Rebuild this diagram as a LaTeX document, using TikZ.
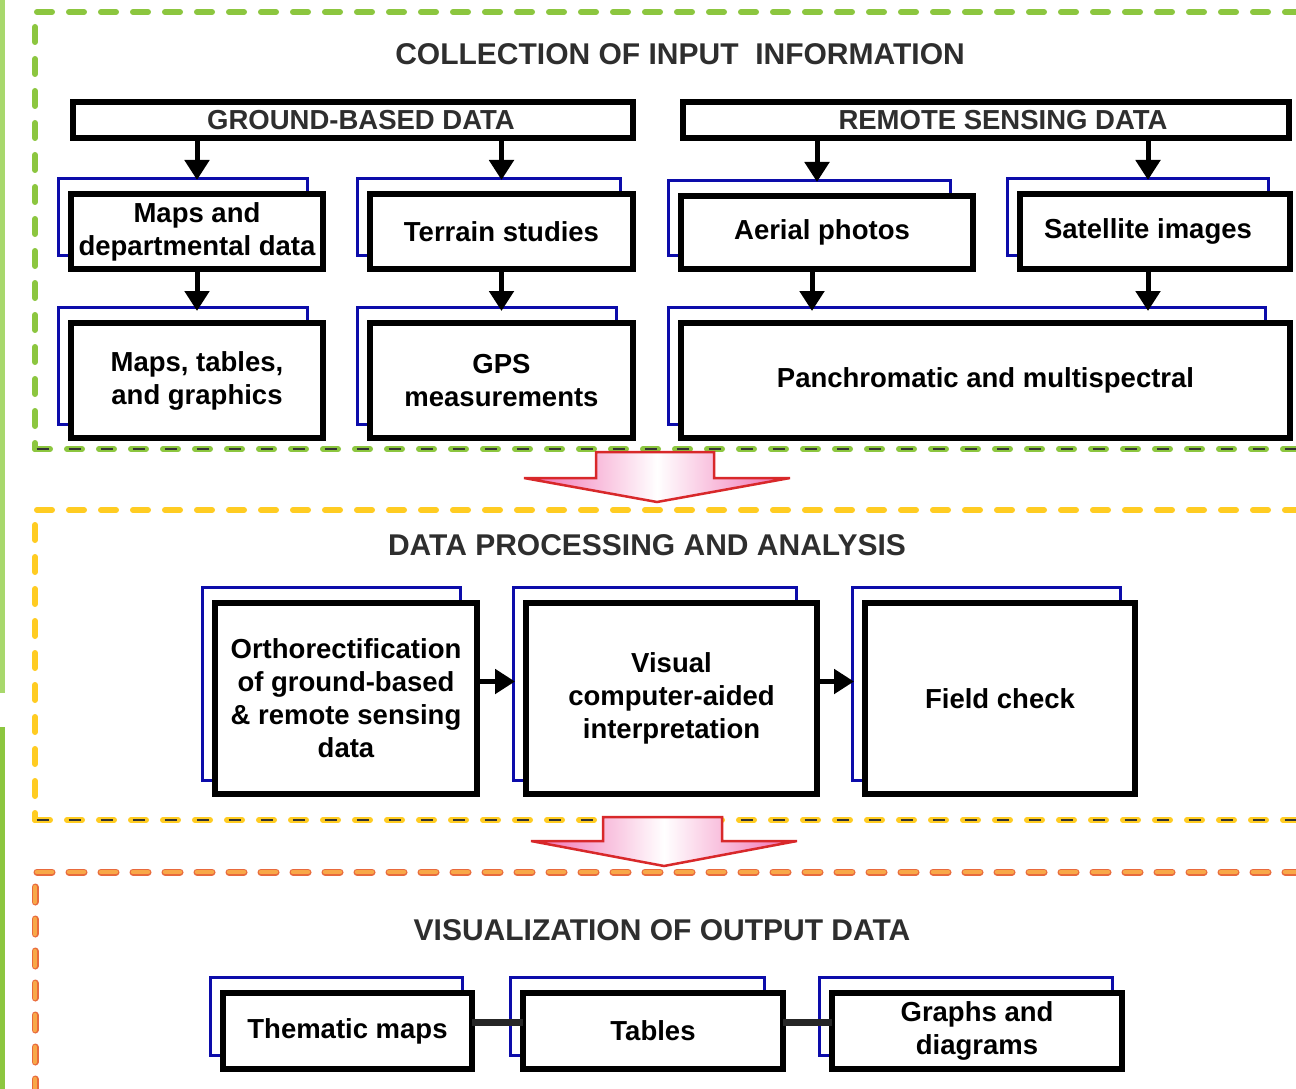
\documentclass[tikz,border=0pt]{standalone}
\usepackage{fontspec}
\setmainfont{Liberation Sans}
\usetikzlibrary{arrows.meta,backgrounds,calc}

\definecolor{grn}{HTML}{8CC63F}
\definecolor{grnlt}{HTML}{A8D86C}
\definecolor{ylw}{HTML}{FFCC22}
\definecolor{org}{HTML}{F8A848}
\definecolor{orgedge}{HTML}{E86A3C}
\definecolor{shblue}{HTML}{0C0CAA}
\definecolor{hdr}{HTML}{2E2E2E}
\definecolor{arrred}{HTML}{D8282A}
\definecolor{arrpink}{HTML}{F06AB0}

\tikzset{
  bx/.style={draw=black, line width=6pt, fill=white, align=center,
    outer sep=0pt, inner sep=0pt, font=\fontsize{27.5}{33}\selectfont\bfseries},
  headbx/.style={bx, text=hdr},
  ttl/.style={text=hdr, font=\fontsize{30}{34}\selectfont\bfseries},
  shad/.style={draw=shblue, line width=3pt},
  arr/.style={line width=5pt, -{Triangle[length=20pt,width=24pt]}},
  joinline/.style={line width=7pt, draw=black!85},
  sectdash/.style={line width=6pt, line cap=round, dash pattern=on 15pt off 17pt},
  innerdash/.style={draw=black!80, line width=2pt, line cap=butt,
    dash pattern=on 0pt off 1.5pt on 12pt off 18.5pt},
  bigarrow/.style={draw=arrred, line width=2.5pt, line join=miter,
    left color=arrpink, right color=arrpink, middle color=white},
}

% blue offset frame behind a box: #1 node name, #2 right inset
\newcommand\frameback[2]{%
  \draw[shad] ([shift={(-13pt,16pt)}]#1.north west) rectangle ([shift={(-#2pt,14pt)}]#1.south east);}

\begin{document}
\begin{tikzpicture}[x=1pt,y=-1pt]
\useasboundingbox (0,0) rectangle (1296,1089);
\begin{scope}[on background layer]
  \fill[white] (0,0) rectangle (1296,1089);
\end{scope}

% side bars
\fill[grnlt] (0,0) rectangle (5,693);
\fill[grn] (0,727) rectangle (5,1089);

% section frames
\draw[sectdash, draw=grn] (1300,12) -- (35,12) -- (35,449);
\draw[sectdash, draw=grn] (35,449) -- (1300,449);
\draw[innerdash] (35,449) -- (1300,449);

\draw[sectdash, draw=ylw] (1300,510) -- (35,510) -- (35,820);
\draw[sectdash, draw=ylw] (35,820) -- (1300,820);
\draw[innerdash] (35,820) -- (1300,820);

\draw[sectdash, draw=orgedge, line width=7pt] (1300,872) -- (35,872) -- (35,1095);
\draw[sectdash, draw=org, line width=4.5pt] (1300,872) -- (35,872) -- (35,1095);

% titles
\node[ttl] (t1) at (680,54) {COLLECTION OF INPUT\ \ INFORMATION};
\node[ttl] (t2) at (647,545) {DATA PROCESSING AND ANALYSIS};
\node[ttl] (t3) at (662,930) {VISUALIZATION OF OUTPUT DATA};

% input information
\node[headbx, minimum width=560, minimum height=36] (gbd) at (353,120) {\hspace*{16pt}GROUND-BASED DATA};
\node[headbx, minimum width=606, minimum height=36] (rsd) at (986,120) {\hspace*{34pt}REMOTE SENSING DATA};

\node[bx, minimum width=252, minimum height=75] (mdd) at (197,231.5) {Maps and\\departmental data};
\node[bx, minimum width=263, minimum height=75] (ts) at (501.5,231.5) {Terrain studies};
\node[bx, minimum width=292, minimum height=73] (ap) at (827,232.5) {Aerial photos\hspace*{10pt}};
\node[bx, minimum width=270, minimum height=75] (si) at (1155,231.5) {Satellite images\hspace*{14pt}};

\node[bx, minimum width=252, minimum height=115] (mtg) at (197,380.5) {Maps, tables,\\and graphics};
\node[bx, minimum width=263, minimum height=115] (gps) at (501.5,380.5) {GPS\\measurements};
\node[bx, minimum width=609, minimum height=115] (pm) at (985.5,380.5) {Panchromatic and multispectral};

% processing
\node[bx, minimum width=262, minimum height=191] (orth) at (346,698.5) {Orthorectification\\of ground-based\\\& remote sensing\\data};
\node[bx, minimum width=291, minimum height=191] (vis) at (671.5,698.5) {Visual\\computer-aided\\interpretation};
\node[bx, minimum width=270, minimum height=191] (fc) at (1000,698.5) {Field check};

% output
\node[bx, minimum width=249, minimum height=76] (tm) at (347.5,1031) {Thematic maps};
\node[bx, minimum width=260, minimum height=76] (tab) at (653,1031) {Tables};
\node[bx, minimum width=290, minimum height=76] (gd) at (977,1031) {Graphs and\\diagrams};

\begin{scope}[on background layer]
  \frameback{mdd}{16}
  \frameback{ts}{13}
  \frameback{ap}{23}
  \frameback{si}{22}
  \frameback{mtg}{16}
  \frameback{gps}{17}
  \frameback{pm}{25}
  \frameback{orth}{17}
  \frameback{vis}{21}
  \frameback{fc}{15}
  \frameback{tm}{10}
  \frameback{tab}{19}
  \frameback{gd}{10}
\end{scope}

% connectors, input section
\draw[arr, shorten >=14pt] (mdd.north |- gbd.south) -- (mdd.north);
\draw[arr, shorten >=14pt] (ts.north |- gbd.south) -- (ts.north);
\coordinate (apin) at ([xshift=-10pt]ap.north);
\coordinate (siin) at ([xshift=-7pt]si.north);
\draw[arr, shorten >=14pt] (apin |- rsd.south) -- (apin);
\draw[arr, shorten >=14pt] (siin |- rsd.south) -- (siin);

\draw[arr, shorten >=12pt] (mdd.south) -- (mtg.north);
\draw[arr, shorten >=12pt] (ts.south) -- (gps.north);
\coordinate (apout) at ([xshift=-15pt]ap.south);
\coordinate (siout) at ([xshift=-7pt]si.south);
\draw[arr, shorten >=12pt] (apout) -- (apout |- pm.north);
\draw[arr, shorten >=12pt] (siout) -- (siout |- pm.north);

% connectors, processing section
\coordinate (o1) at ([yshift=17pt]orth.east);
\coordinate (o2) at ([yshift=17pt]vis.east);
\draw[arr, shorten >=11pt] (o1) -- (o1 -| vis.west);
\draw[arr, shorten >=11pt] (o2) -- (o2 -| fc.west);

% connectors, output section
\coordinate (j1) at ([yshift=9pt]tm.east);
\coordinate (j2) at ([yshift=9pt]tab.east);
\draw[joinline] (j1) -- (j1 -| tab.west);
\draw[joinline] (j2) -- (j2 -| gd.west);

% block arrows between sections
\path[bigarrow] (596,452) -- (714,452) -- (714,478) -- (790,478) -- (657,502)
  -- (524,478) -- (596,478) -- cycle;
\path[bigarrow] (603,817) -- (722,817) -- (722,841) -- (797,841) -- (664,866)
  -- (531,841) -- (603,841) -- cycle;
\end{tikzpicture}
\end{document}
